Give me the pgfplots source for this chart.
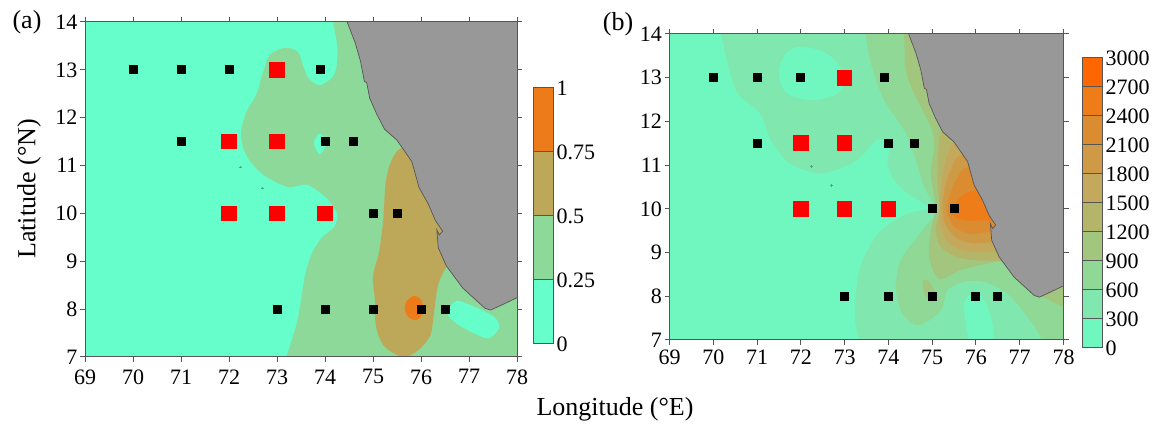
\documentclass[border=0pt]{standalone}
\usepackage{pgfplots}
\usepackage{fontspec}
\setmainfont{Liberation Serif}
\pgfplotsset{compat=1.18}
\definecolor{axc}{HTML}{555555}
\definecolor{land}{HTML}{989898}
\definecolor{speckc}{HTML}{45A98C}
\definecolor{aA}{HTML}{66FFCC}
\definecolor{aB}{HTML}{8CD99A}
\definecolor{aC}{HTML}{BDA85A}
\definecolor{aD}{HTML}{EE7B1A}
\definecolor{bA}{HTML}{70F7C0}
\definecolor{bB}{HTML}{80E8AE}
\definecolor{bC}{HTML}{8FD896}
\definecolor{bD}{HTML}{A2C67E}
\definecolor{bE}{HTML}{B5B56A}
\definecolor{bF}{HTML}{C4A85C}
\definecolor{bG}{HTML}{CF9A45}
\definecolor{bH}{HTML}{DC8C30}
\definecolor{bI}{HTML}{EE7C18}
\definecolor{bJ}{HTML}{FF6600}
\pgfplotsset{
  fnt/.style={font=\fontsize{22}{24}\selectfont},
  mapaxis/.style={
    scale only axis, xmin=69, xmax=78, ymin=7, ymax=14,
    xtick={69,...,78}, ytick={7,...,14},
    tick align=outside, tick pos=both, xticklabel pos=lower, yticklabel pos=left,
    major tick length=5pt, tick style={axc, line width=1pt},
    axis line style={axc, line width=1pt},
    axis on top, clip=true,
    /pgf/number format/assume math mode=true,
    tick label style={fnt}, yticklabel style={xshift=1pt},
  },
  barbase/.style={
    scale only axis, xmin=0, xmax=1, xtick=\empty, tick align=outside,
    ytick pos=right, yticklabel pos=right, major tick length=0pt,
    axis line style={axc, line width=0.8pt}, axis on top,
    /pgf/number format/assume math mode=true,
    tick label style={fnt}, yticklabel style={xshift=0pt, yshift=-1pt},
  },
  poly/.style={draw=none, fill=#1, mark=none, smooth cycle},
  band/.style={draw=axc, line width=0.8pt, fill=#1, mark=none},
  blk/.style={only marks, mark=square*, mark size=4pt, mark options={fill=black, draw=black, line width=0pt}},
  redm/.style={only marks, mark=square*, mark size=7.3pt, mark options={fill=red, draw=red, line width=0pt}},
  speck/.style={only marks, mark=*, mark size=0.7pt, mark options={fill=speckc, draw=speckc, line width=0pt}},
}
\begin{document}
\begin{tikzpicture}[x=1pt,y=1pt]
\path[use as bounding box] (0,0) rectangle (1158,427);

% ---------- panel (a)
\begin{axis}[mapaxis, at={(85pt,70pt)}, anchor=south west, width=432pt, height=335pt, xticklabel style={yshift=-4pt}]
\addplot[draw=none, fill=aA, mark=none] coordinates {(68,6)(79,6)(79,15)(68,15)} -- cycle;
\addplot[poly=aB] coordinates {
(74.12,14.6)(74.17,14)(74.25,13.55)(74.25,13.13)(74.16,12.85)(73.89,12.68)(73.66,12.82)(73.54,13.10)
(73.43,13.38)(73.16,13.46)(72.85,13.31)(72.70,12.92)(72.58,12.51)(72.35,12.09)(72.25,11.67)(72.31,11.33)
(72.47,11.05)(72.77,10.77)(73.24,10.55)(73.62,10.60)(74.0,10.35)(74.25,10.01)(74.20,9.73)(73.93,9.49)
(73.73,9.17)(73.58,8.69)(73.43,7.78)(73.20,7)(73.05,6.4)(79,6.4)(79,14.6)};
\addplot[poly=aC] coordinates {
(75.58,11.36)(75.39,11.12)(75.27,10.70)(75.23,10.15)(75.20,9.73)(75.12,9.17)(75.0,8.69)(75.04,8.20)
(75.06,7.65)(75.23,7.23)(75.62,7.0)(75.93,7.13)(76.19,7.44)(76.27,7.92)(76.35,8.48)(76.50,8.83)
(76.9,9.5)(76.5,10.5)(75.9,11.3)};
\addplot[poly=aD] coordinates {
(75.85,8.28)(75.70,8.17)(75.66,8.02)(75.72,7.85)(75.88,7.77)(76.0,7.85)(76.04,8.05)(75.98,8.22)};
\addplot[poly=aA] coordinates {
(76.73,8.17)(77.16,8.03)(77.54,7.82)(77.63,7.61)(77.42,7.39)(77.16,7.47)(76.77,7.68)(76.56,7.89)};
\addplot[poly=aA] coordinates {(73.89,11.67)(73.77,11.47)(73.89,11.24)(74.04,11.47)};
\addplot[draw=axc, line width=0.7pt, fill=land, mark=none] coordinates {
(74.42,14.3)(74.47,13.98)(74.63,13.56)(74.74,13.18)(74.82,12.76)(74.87,12.73)(74.93,12.41)(75.08,12.07)(75.24,11.76)
(75.50,11.53)(75.81,11.08)(75.96,10.54)(76.15,10.20)(76.30,9.85)(76.45,9.63)(76.38,9.55)(76.33,9.66)(76.36,9.28)
(76.53,8.90)(76.87,8.44)(77.33,8.02)(77.45,7.98)(77.71,8.10)(77.98,8.23)(78.3,8.4)(78.3,14.3)} -- cycle;
\addplot[speck] coordinates {(72.24,10.97)(72.70,10.53)};
\addplot[blk] coordinates {(70,13)(71,13)(72,13)(73.9,13)(71,11.5)(74,11.5)(74.6,11.5)(75,10)(75.5,10)(73,8)(74,8)(75,8)(76,8)(76.5,8)};
\addplot[redm] coordinates {(73,13)(72,11.5)(73,11.5)(72,10)(73,10)(74,10)};
\end{axis}

% ---------- colour bar (a)
\begin{axis}[barbase, at={(533.5pt,84pt)}, anchor=south west, width=19.5pt, height=256pt,
  ymin=0, ymax=1, ytick={0,0.25,0.5,0.75,1}, yticklabels={0,0.25,0.5,0.75,1}]
\addplot[band=aA] coordinates {(0,0)(1,0)(1,0.25)(0,0.25)} -- cycle;
\addplot[band=aB] coordinates {(0,0.25)(1,0.25)(1,0.5)(0,0.5)} -- cycle;
\addplot[band=aC] coordinates {(0,0.5)(1,0.5)(1,0.75)(0,0.75)} -- cycle;
\addplot[band=aD] coordinates {(0,0.75)(1,0.75)(1,1)(0,1)} -- cycle;
\end{axis}

% ---------- panel (b)
\begin{axis}[mapaxis, at={(669.5pt,87pt)}, anchor=south west, width=394pt, height=306pt, xticklabel style={yshift=-1.5pt}]
\addplot[draw=none, fill=bA, mark=none] coordinates {(68,6)(79,6)(79,15)(68,15)} -- cycle;
\addplot[poly=bB] coordinates {
(70.15,14.5)(70.18,14)(70.35,13.25)(70.56,12.64)(71.07,12.18)(71.32,11.57)(71.74,11.04)(72.41,10.81)
(73.0,10.96)(73.37,11.19)(73.75,11.59)(74.02,11.46)(73.98,11.04)(74.13,10.66)(74.44,10.35)(74.93,10.02)
(74.44,9.89)(73.83,9.51)(73.41,8.82)(73.26,8.14)(73.24,7.45)(73.34,7)(73.4,6.5)(78.5,6.5)(78.5,14.5)};
\addplot[poly=bA] coordinates {
(71.99,13.71)(72.50,13.60)(72.84,13.33)(73.0,12.95)(72.84,12.64)(72.33,12.49)(71.82,12.57)(71.57,12.79)(71.50,13.18)(71.66,13.56)};
\addplot[poly=bC] coordinates {
(73.42,14.5)(73.48,13.98)(73.60,13.33)(73.90,12.49)(74.36,11.80)(74.63,11.11)(74.82,10.50)(75.08,10.05)
(75.12,9.93)(74.66,9.36)(74.28,8.82)(74.17,8.21)(74.32,7.60)(74.70,7.34)(75.20,7.68)(75.35,8.14)(75.73,8.33)
(76.19,8.33)(76.72,8.06)(77.18,7.53)(77.52,7.0)(77.8,6.5)(78.5,6.5)(78.5,14.5)};
\addplot[poly=bA] coordinates {
(76.0,8.10)(76.26,7.76)(76.40,7.22)(76.34,6.95)(75.88,6.95)(75.75,7.53)(75.75,7.91)};
\addplot[poly=bD] coordinates {
(74.33,14.5)(74.36,13.98)(74.40,13.18)(74.59,12.64)(74.97,11.88)(75.05,11.42)(74.97,10.81)(75.08,10.05)
(74.97,9.51)(74.93,8.90)(75.16,8.40)(75.65,8.60)(76.26,8.75)(76.57,8.82)(77,9)(78,11)(78,14.5)};
\addplot[poly=bD] coordinates {(74.79,8.36)(74.94,8.33)(75.07,8.07)(74.94,7.95)(74.82,8.07)};
\addplot[draw=none, fill=bD, mark=none] coordinates {(77.4,8.05)(78.2,7.65)(78.2,8.3)} -- cycle;
\addplot[poly=bE] coordinates {
(75.20,11.73)(75.14,11.27)(75.12,10.66)(75.16,10.01)(75.08,9.51)(75.20,9.13)(75.58,8.89)(76.04,8.82)(76.53,8.81)
(77.18,8.75)(76.57,11.04)(75.65,11.95)};
\addplot[poly=bF] coordinates {
(75.46,11.50)(75.27,10.96)(75.20,10.43)(75.18,10.01)(75.20,9.59)(75.39,9.21)(75.81,9.02)(76.45,9.02)(77.18,8.90)(76.80,10.66)(75.81,11.80)};
\addplot[poly=bG] coordinates {
(75.69,11.23)(75.39,10.81)(75.27,10.35)(75.24,10.01)(75.31,9.63)(75.58,9.32)(75.96,9.21)(76.40,9.24)(77.03,9.21)(76.57,10.66)};
\addplot[poly=bH] coordinates {
(75.85,10.96)(75.54,10.66)(75.37,10.20)(75.34,9.93)(75.50,9.59)(75.88,9.42)(76.38,9.47)(76.95,9.36)(76.57,10.43)};
\addplot[poly=bI] coordinates {
(75.85,10.39)(75.58,10.20)(75.41,9.93)(75.58,9.78)(75.81,9.73)(76.30,9.73)(76.72,9.59)(76.42,10.43)};
\addplot[draw=axc, line width=0.7pt, fill=land, mark=none] coordinates {
(74.42,14.3)(74.47,13.98)(74.63,13.56)(74.74,13.18)(74.82,12.76)(74.87,12.73)(74.93,12.41)(75.08,12.07)(75.24,11.76)
(75.50,11.53)(75.81,11.08)(75.96,10.54)(76.15,10.20)(76.30,9.85)(76.45,9.63)(76.38,9.55)(76.33,9.66)(76.36,9.28)
(76.53,8.90)(76.87,8.44)(77.33,8.02)(77.45,7.98)(77.71,8.10)(77.98,8.23)(78.3,8.4)(78.3,14.3)} -- cycle;
\addplot[speck] coordinates {(72.24,10.97)(72.70,10.53)};
\addplot[blk] coordinates {(70,13)(71,13)(72,13)(73.9,13)(71,11.5)(74,11.5)(74.6,11.5)(75,10)(75.5,10)(73,8)(74,8)(75,8)(76,8)(76.5,8)};
\addplot[redm] coordinates {(73,13)(72,11.5)(73,11.5)(72,10)(73,10)(74,10)};
\end{axis}

% ---------- colour bar (b)
\begin{axis}[barbase, at={(1082pt,80pt)}, anchor=south west, width=20pt, height=290pt,
  ymin=0, ymax=3000, ytick={0,300,...,3000},
  scaled y ticks=false, yticklabel style={/pgf/number format/set thousands separator={}}]
\addplot[band=bA] coordinates {(0,0)(1,0)(1,300)(0,300)} -- cycle;
\addplot[band=bB] coordinates {(0,300)(1,300)(1,600)(0,600)} -- cycle;
\addplot[band=bC] coordinates {(0,600)(1,600)(1,900)(0,900)} -- cycle;
\addplot[band=bD] coordinates {(0,900)(1,900)(1,1200)(0,1200)} -- cycle;
\addplot[band=bE] coordinates {(0,1200)(1,1200)(1,1500)(0,1500)} -- cycle;
\addplot[band=bF] coordinates {(0,1500)(1,1500)(1,1800)(0,1800)} -- cycle;
\addplot[band=bG] coordinates {(0,1800)(1,1800)(1,2100)(0,2100)} -- cycle;
\addplot[band=bH] coordinates {(0,2100)(1,2100)(1,2400)(0,2400)} -- cycle;
\addplot[band=bI] coordinates {(0,2400)(1,2400)(1,2700)(0,2700)} -- cycle;
\addplot[band=bJ] coordinates {(0,2700)(1,2700)(1,3000)(0,3000)} -- cycle;
\end{axis}

% ---------- text
\node[font=\fontsize{26}{28}\selectfont] at (27,405) {(a)};
\node[font=\fontsize{26}{28}\selectfont] at (618,403) {(b)};
\node[font=\fontsize{26}{28}\selectfont, rotate=90] at (29,238) {Latitude (°N)};
\node[font=\fontsize{26}{28}\selectfont] at (615,18) {Longitude (°E)};
\end{tikzpicture}
\end{document}
